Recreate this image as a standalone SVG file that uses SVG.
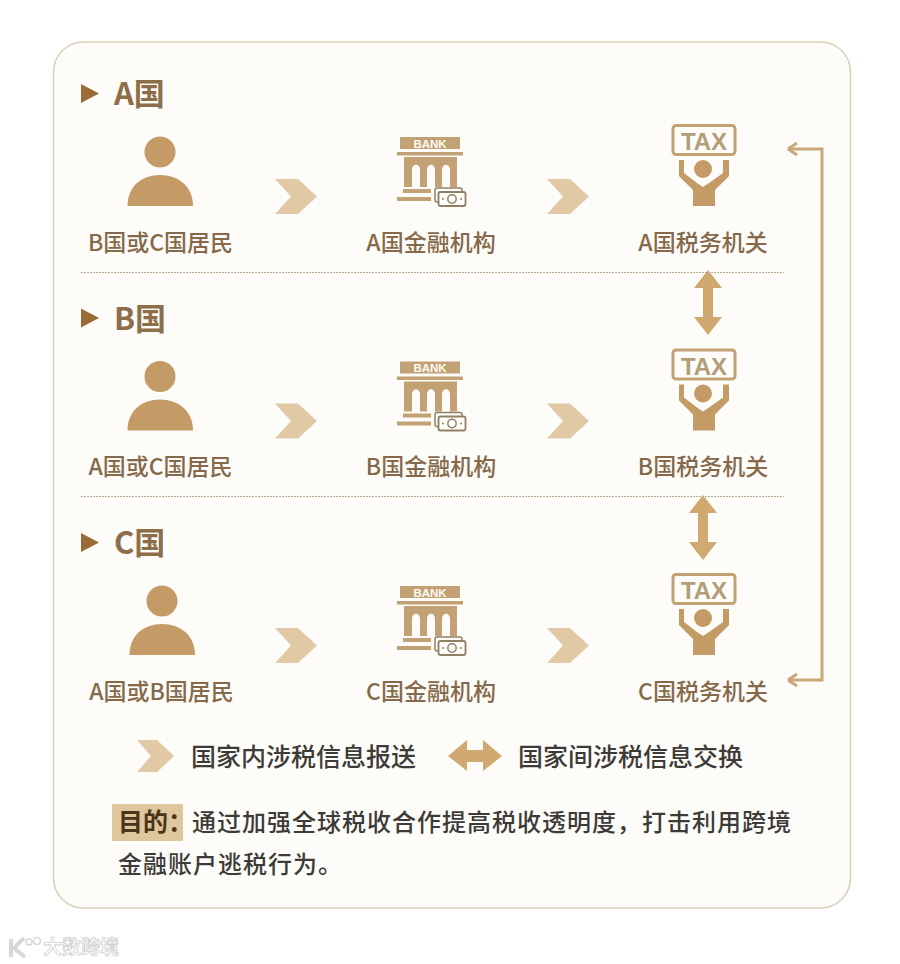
<svg xmlns="http://www.w3.org/2000/svg" xmlns:xlink="http://www.w3.org/1999/xlink" width="900" height="964" viewBox="0 0 900 964">
<style>
text{font-family:"Noto Sans CJK SC","Noto Sans",sans-serif}
.head{font-size:31px;font-weight:700;fill:#8d6e4b}
.lab{font-size:23px;font-weight:500;fill:#85694a;text-anchor:middle}
.leg{font-size:25px;font-weight:500;fill:#3d3b38}
.body{font-size:24px;font-weight:500;fill:#3d3b38;letter-spacing:1px}
.icon{fill:#c49b67}
.bank{fill:#c2a274}
.chev{fill:#e1c9a5}
.dbl{fill:#d0a970}
.div{stroke:#b5aa92;stroke-width:1;stroke-dasharray:2 1;fill:none}
</style>
<defs>
<g id="tri"><path d="M81 84L99 93.500L81 103Z" fill="#9a6b37"/></g>
<g id="person"><circle cx="160" cy="152" r="15.500" class="icon"/><path d="M127.500 206C127.500 186 142 175 160 175C178 175 193 186 193 206Z" class="icon"/></g>
<path id="chevron" d="M275 179H298L317 196.500L298 214H275L291 196.500Z" class="chev"/>
<g id="bankicon">
<path d="M400 137H460V149H400ZM397 152H463V155.500H397Z" class="bank"/>
<text x="430" y="147.500" text-anchor="middle" style="font-family:'Liberation Sans',sans-serif;font-size:11.500px;font-weight:700;fill:#fdfbf6">BANK</text>
<path d="M404 157H457V187H450V170C450 163 442 163 442 170V187H435V170C435 163 427 163 427 170V187H420V170C420 163 412 163 412 170V187H404Z" class="bank"/>
<path d="M403 189H431V193H403ZM397 197H431V201H397Z" class="bank"/>
<rect x="435" y="188" width="27" height="14" rx="2" fill="#fefcf8" stroke="#8f8063" stroke-width="1.500"/>
<rect x="438.500" y="192" width="27" height="14" rx="2" fill="#fefcf8" stroke="#8f8063" stroke-width="1.800"/>
<circle cx="452" cy="199" r="4.200" fill="none" stroke="#8f8063" stroke-width="1.500"/>
<circle cx="443" cy="199" r="1" fill="#8f8063"/><circle cx="461" cy="199" r="1" fill="#8f8063"/>
</g>
<g id="taxicon">
<rect x="673" y="125.500" width="62" height="29" rx="3" fill="#fefcf8" stroke="#c2a274" stroke-width="3"/>
<text x="704" y="150" text-anchor="middle" style="font-family:'Liberation Sans',sans-serif;font-size:24px;font-weight:700;fill:#b39c78">TAX</text>
<circle cx="703" cy="169" r="9" class="icon"/>
<path d="M679 160H684V173L697 183L703 187L709 183L723 173V160H729V176L715 190V206H693V190L679 176Z" class="icon"/>
</g>
<path id="vdbl" d="M0 0L14 18H5V47H14L0 65L-14 47H-5V18H-14Z" class="dbl"/>
</defs>
<rect width="900" height="964" fill="#fff"/>
<rect x="53.500" y="42" width="797" height="866" rx="30" fill="#fefcf8" stroke="#d8d1b6" stroke-width="1.500"/>

<g id="connectors" fill="none">
<path d="M790 149H822V680H790" stroke="#c9a877" stroke-width="3"/>
<path d="M788 149L797 143M788 149L797 155M788 680L797 674M788 680L797 686" stroke="#c9a877" stroke-width="3"/>
<path class="div" d="M81 272.500H784"/>
<path class="div" d="M81 496.500H784"/>
<use href="#vdbl" x="708" y="270"/>
<use href="#vdbl" x="703" y="495"/>
<use href="#chevron"/><use href="#chevron" x="272"/>
<use href="#chevron" y="224.500"/><use href="#chevron" x="272" y="224.500"/>
<use href="#chevron" y="449"/><use href="#chevron" x="272" y="449"/>
</g>

<g id="heading-a"><use href="#tri"/><text class="head" x="114" y="105">A国</text></g>
<g id="heading-b"><use href="#tri" y="224.500"/><text class="head" x="114" y="330">B国</text></g>
<g id="heading-c"><use href="#tri" y="449"/><text class="head" x="114" y="554">C国</text></g>

<g id="resident-a"><use href="#person"/><text class="lab" x="160.500" y="251">B国或C国居民</text></g>
<g id="bank-a"><use href="#bankicon"/><text class="lab" x="431" y="251">A国金融机构</text></g>
<g id="tax-a"><use href="#taxicon"/><text class="lab" x="703" y="251">A国税务机关</text></g>

<g id="resident-b"><use href="#person" y="224.500"/><text class="lab" x="160.500" y="475">A国或C国居民</text></g>
<g id="bank-b"><use href="#bankicon" y="224.500"/><text class="lab" x="431" y="475">B国金融机构</text></g>
<g id="tax-b"><use href="#taxicon" y="224.500"/><text class="lab" x="703" y="475">B国税务机关</text></g>

<g id="resident-c"><use href="#person" x="2" y="449"/><text class="lab" x="161.500" y="700">A国或B国居民</text></g>
<g id="bank-c"><use href="#bankicon" y="449"/><text class="lab" x="431" y="700">C国金融机构</text></g>
<g id="tax-c"><use href="#taxicon" y="449"/><text class="lab" x="703" y="700">C国税务机关</text></g>

<g id="legend-domestic">
<path d="M137 740H157L174 756L157 772H137L151 756Z" class="chev"/>
<text class="leg" x="191" y="766">国家内涉税信息报送</text>
</g>
<g id="legend-international">
<path d="M448 756L467 740V750H483V740L502 756L483 771V762H467V771Z" class="dbl"/>
<text class="leg" x="518" y="766">国家间涉税信息交换</text>
</g>
<g id="purpose">
<rect x="112" y="804" width="71" height="37" fill="#dfc69c"/>
<text x="118" y="831" style="font-size:25px;font-weight:700;fill:#4a3518">目的：</text>
<text class="body" x="192" y="831">通过加强全球税收合作提高税收透明度，打击利用跨境</text>
<text class="body" x="118" y="873">金融账户逃税行为。</text>
</g>
<g id="watermark">
<path d="M11 939V957M24 938L14 948L25 957" fill="none" stroke="#d8d8d8" stroke-width="4"/>
<circle cx="29" cy="942" r="3" fill="none" stroke="#d8d8d8" stroke-width="1.500"/>
<circle cx="37" cy="941" r="3.500" fill="none" stroke="#d8d8d8" stroke-width="1.500"/>
<text x="43" y="954" style="font-size:19px;font-weight:700;fill:#fff;stroke:#cfcfcf;stroke-width:.8px">大数跨境</text>
</g>
</svg>
